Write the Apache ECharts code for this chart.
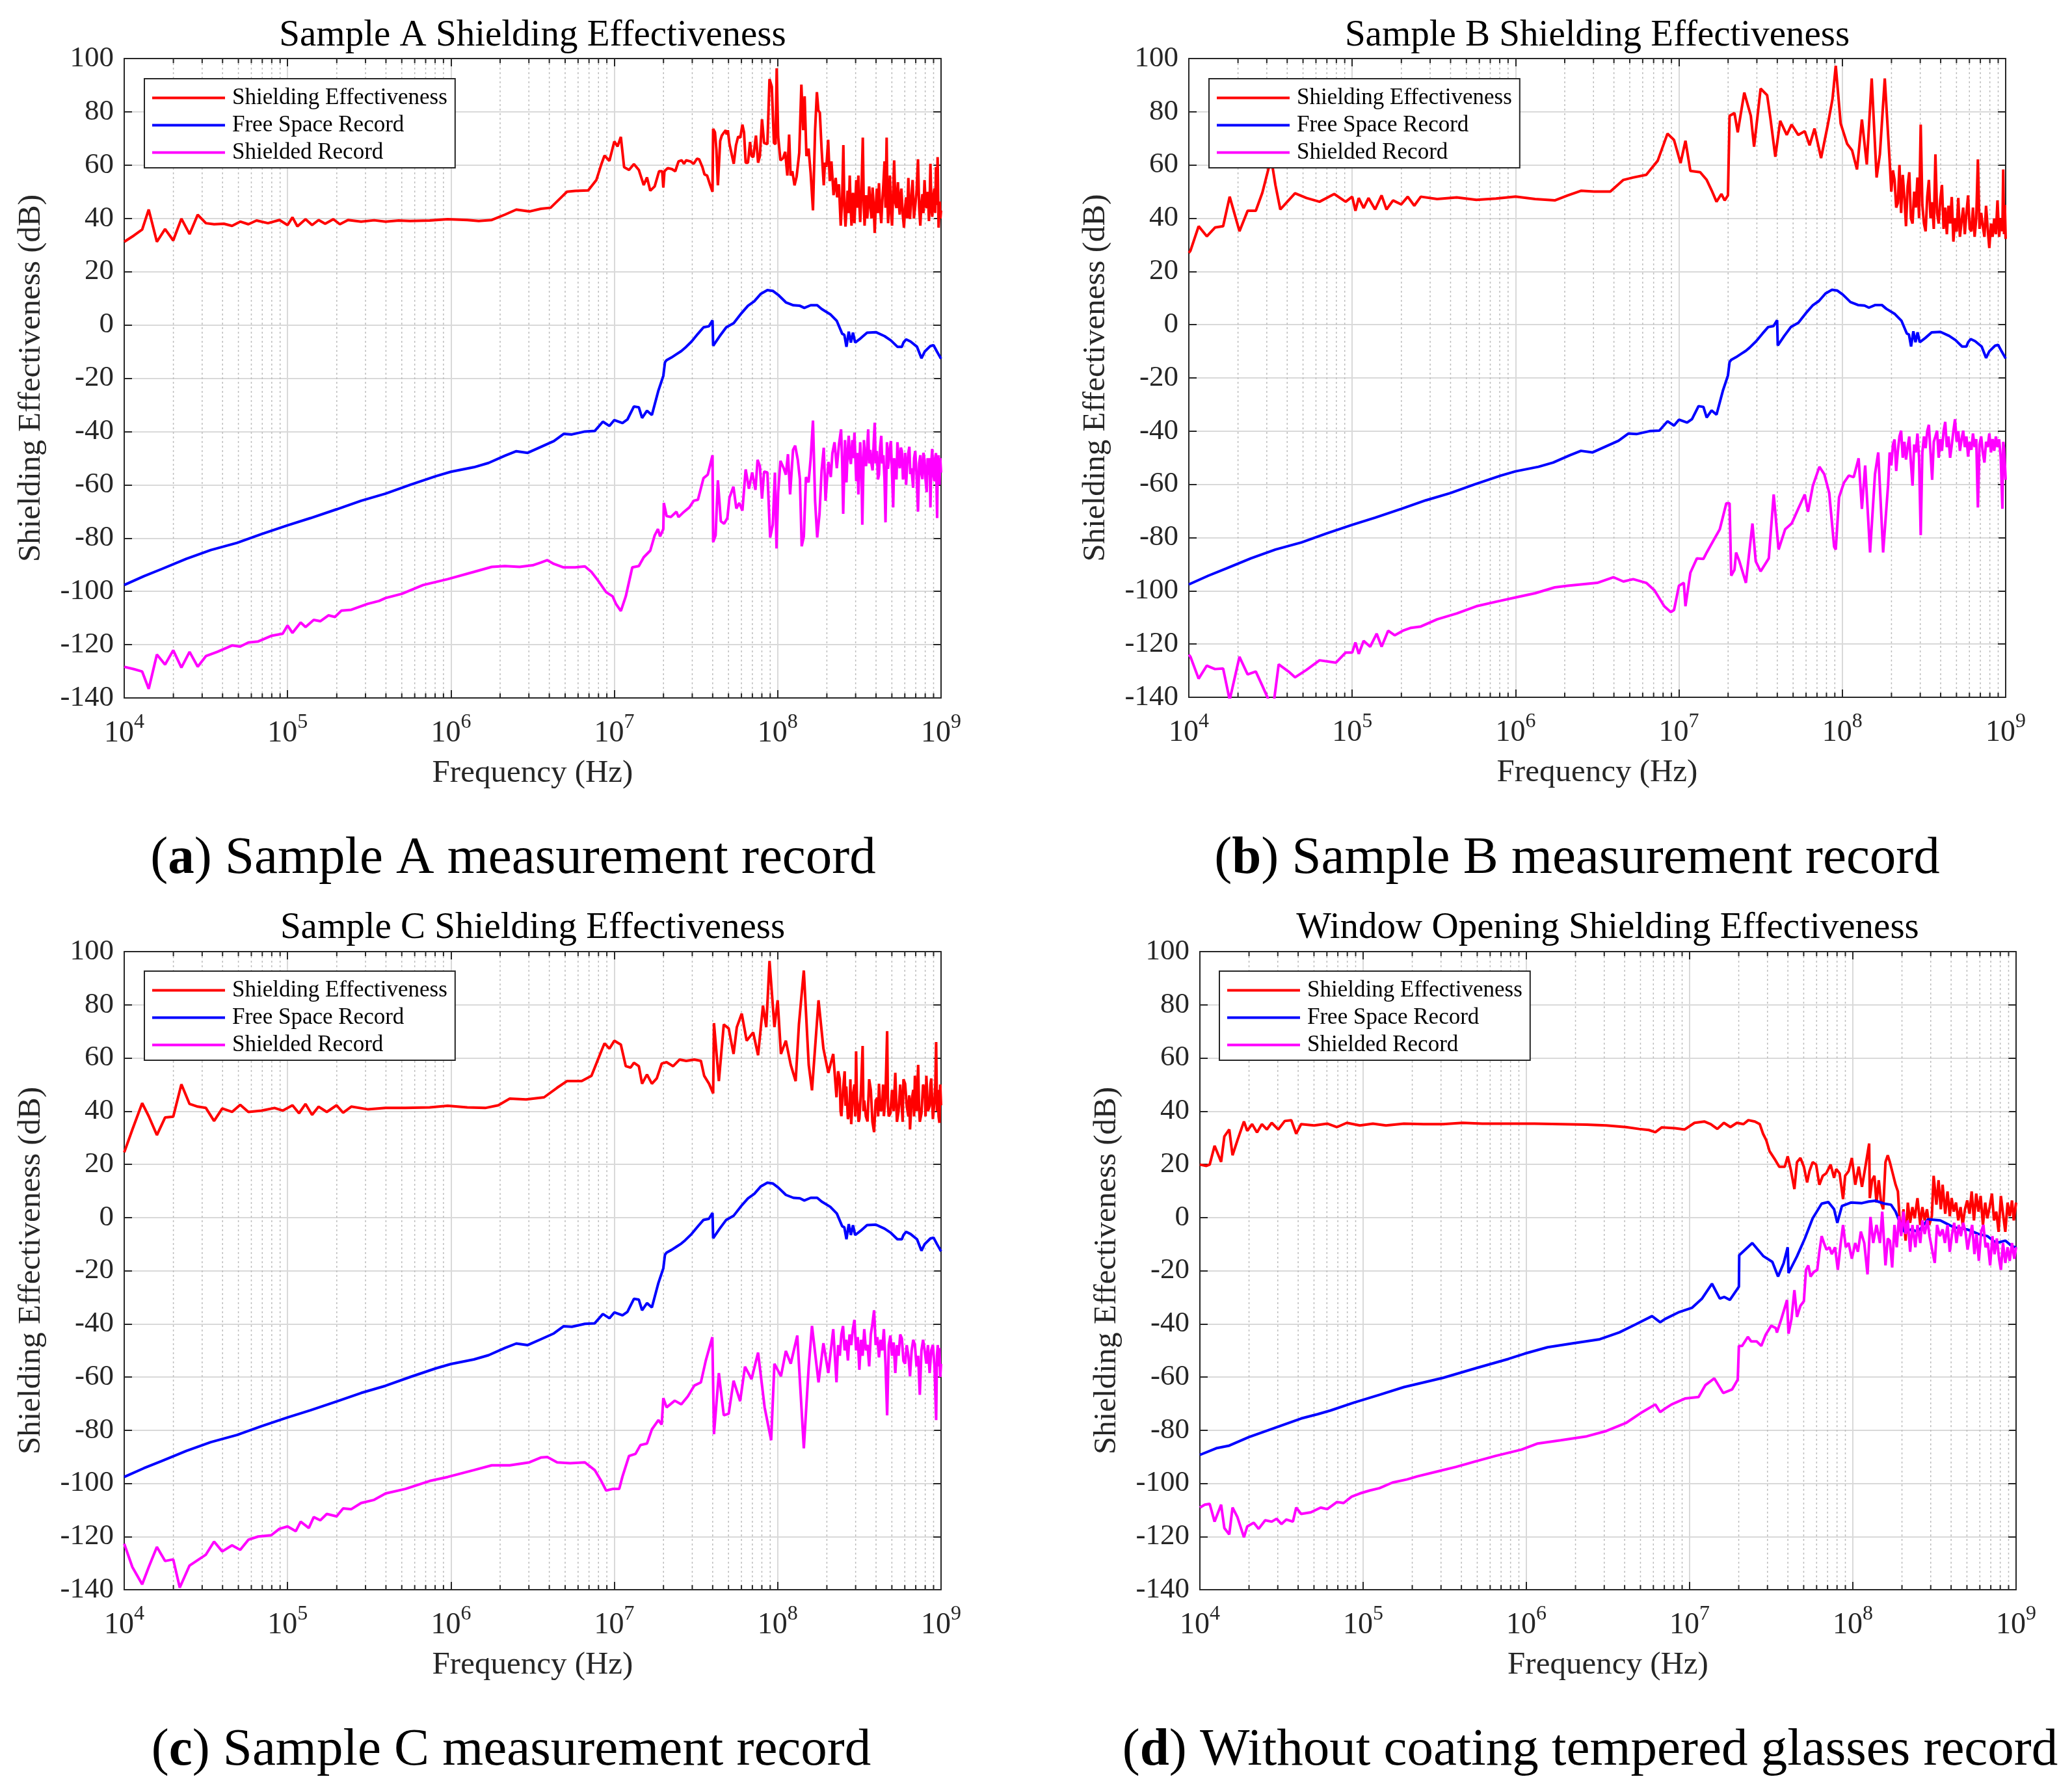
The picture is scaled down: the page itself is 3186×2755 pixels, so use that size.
<!DOCTYPE html>
<html>
<head>
<meta charset="utf-8">
<title>Shielding Effectiveness records</title>
<script src="https://cdn.jsdelivr.net/npm/echarts@6/dist/echarts.min.js"></script>
<style>
  html, body { margin: 0; padding: 0; background: #fff; }
  #chart { width: 3186px; height: 2755px; }
</style>
</head>
<body>
<div id="chart"></div>
<script>
// every point is [log10(frequency / Hz), level in dB]

// free space record, the same sweep in samples A, B and C
const freeSpaceABC = [[4.00,-97.6],[4.12,-94.3],[4.23,-91.6],[4.38,-87.8],[4.53,-84.5],[4.69,-81.8],[4.84,-78.5],[5.00,-75.2],[5.14,-72.5],[5.30,-69.2],[5.45,-66.0],[5.60,-63.3],[5.75,-60.0],[5.91,-56.7],[6.00,-55.1],[6.14,-53.4],[6.23,-51.8],[6.33,-49.1],[6.40,-47.4],[6.47,-48.0],[6.55,-45.8],[6.63,-43.6],[6.69,-40.9],[6.74,-41.1],[6.82,-40.0],[6.88,-39.8],[6.93,-36.3],[6.97,-37.9],[7.00,-35.7],[7.05,-36.8],[7.08,-35.5],[7.12,-30.6],[7.15,-30.9],[7.17,-34.9],[7.20,-32.2],[7.23,-33.8],[7.27,-24.6],[7.30,-19.1],[7.31,-14.0],[7.32,-13.2],[7.35,-12.2],[7.38,-11.0],[7.41,-9.8],[7.433,-8.6],[7.473,-6.2],[7.512,-3.3],[7.546,-0.9],[7.579,-0.5],[7.601,1.7],[7.605,-7.8],[7.645,-4.2],[7.685,-0.9],[7.731,0.7],[7.778,4.4],[7.818,7.2],[7.857,8.9],[7.897,11.7],[7.937,13.1],[7.970,12.8],[8.003,11.3],[8.050,8.5],[8.096,7.4],[8.136,7.2],[8.163,6.4],[8.202,7.4],[8.242,7.4],[8.269,6.0],[8.322,4.0],[8.362,1.5],[8.395,-3.3],[8.408,-3.7],[8.421,-8.2],[8.435,-2.5],[8.448,-6.6],[8.461,-2.9],[8.474,-6.6],[8.508,-5.0],[8.547,-2.9],[8.601,-2.7],[8.654,-4.2],[8.693,-5.8],[8.733,-8.2],[8.760,-8.2],[8.770,-6.6],[8.786,-5.4],[8.813,-6.2],[8.853,-8.2],[8.880,-12.5],[8.900,-10.0],[8.935,-7.9],[8.954,-7.6],[8.975,-10.0],[9.0,-12.7]];

const sampleA_SE = [[4.00,31.2],[4.06,33.6],[4.11,35.8],[4.15,43.3],[4.20,31.2],[4.25,36.0],[4.30,31.7],[4.35,39.9],[4.40,34.1],[4.45,41.4],[4.50,38.2],[4.55,37.8],[4.61,38.0],[4.66,37.2],[4.71,38.8],[4.76,37.8],[4.81,39.2],[4.88,38.2],[4.95,39.4],[5.00,37.5],[5.03,40.4],[5.06,37.0],[5.11,39.7],[5.15,37.5],[5.19,39.4],[5.23,38.0],[5.28,39.7],[5.32,37.8],[5.37,39.4],[5.45,38.8],[5.53,39.3],[5.60,38.8],[5.68,39.2],[5.75,39.0],[5.87,39.2],[5.98,39.7],[6.10,39.4],[6.17,39.0],[6.25,39.4],[6.33,41.4],[6.40,43.3],[6.48,42.6],[6.55,43.6],[6.61,44.0],[6.67,47.6],[6.71,50.0],[6.76,50.3],[6.84,50.5],[6.89,54.4],[6.92,60.2],[6.94,63.6],[6.97,61.6],[7.00,68.9],[7.02,67.0],[7.04,70.6],[7.06,59.2],[7.09,58.2],[7.12,60.4],[7.15,58.2],[7.18,52.5],[7.20,55.4],[7.22,50.4],[7.247,52.0],[7.274,57.7],[7.293,57.7],[7.30,51.6],[7.307,57.7],[7.327,58.9],[7.353,58.5],[7.373,57.7],[7.393,61.4],[7.413,61.8],[7.426,60.5],[7.44,61.8],[7.466,61.4],[7.486,60.5],[7.506,62.4],[7.519,62.2],[7.539,59.3],[7.552,56.5],[7.568,56.1],[7.585,52.8],[7.601,50.0],[7.605,73.6],[7.616,72.3],[7.625,65.8],[7.634,52.4],[7.648,69.1],[7.658,71.1],[7.672,72.3],[7.682,73.1],[7.688,71.5],[7.695,73.1],[7.705,67.9],[7.731,60.5],[7.745,67.5],[7.758,70.7],[7.771,70.3],[7.784,75.2],[7.794,72.3],[7.804,60.9],[7.818,60.9],[7.831,68.7],[7.840,63.4],[7.851,63.0],[7.867,71.1],[7.880,60.9],[7.891,63.4],[7.904,77.2],[7.911,77.6],[7.917,68.3],[7.937,67.9],[7.950,92.3],[7.964,89.4],[7.977,68.3],[7.987,67.9],[7.994,96.3],[8.003,70.7],[8.017,61.8],[8.033,62.6],[8.046,65.0],[8.059,56.1],[8.070,71.5],[8.079,56.1],[8.090,57.7],[8.103,52.4],[8.116,55.7],[8.132,64.6],[8.145,90.2],[8.156,73.1],[8.165,85.8],[8.176,63.4],[8.189,66.2],[8.202,56.9],[8.216,43.0],[8.229,73.1],[8.240,87.4],[8.249,80.5],[8.258,79.7],[8.269,65.8],[8.282,52.4],[8.289,60.9],[8.298,59.3],[8.309,69.5],[8.319,54.0],[8.329,61.4],[8.342,48.7],[8.355,55.2],[8.364,47.9],[8.375,52.8],[8.386,37.3],[8.395,48.0],[8.402,67.5],[8.408,45.0],[8.415,36.9],[8.422,44.0],[8.428,50.4],[8.435,42.0],[8.441,56.1],[8.447,44.0],[8.452,37.3],[8.457,46.0],[8.461,49.6],[8.466,42.0],[8.470,38.2],[8.476,47.0],[8.481,54.4],[8.488,44.0],[8.494,56.1],[8.500,45.0],[8.505,38.6],[8.513,50.0],[8.521,70.3],[8.527,45.0],[8.532,37.3],[8.537,44.0],[8.541,48.7],[8.548,40.0],[8.554,44.7],[8.560,52.0],[8.567,45.5],[8.574,40.0],[8.581,51.6],[8.588,44.0],[8.594,34.5],[8.600,44.0],[8.607,51.2],[8.613,42.0],[8.620,53.2],[8.627,44.0],[8.634,38.2],[8.640,46.0],[8.647,52.8],[8.654,61.4],[8.660,44.0],[8.667,70.3],[8.672,46.0],[8.676,38.2],[8.682,48.0],[8.687,56.1],[8.694,42.0],[8.700,37.3],[8.706,48.0],[8.713,61.8],[8.720,46.0],[8.727,43.9],[8.732,50.0],[8.736,53.6],[8.742,45.0],[8.747,41.4],[8.752,48.0],[8.757,51.2],[8.765,42.0],[8.773,36.5],[8.780,44.0],[8.786,47.9],[8.793,40.0],[8.800,55.2],[8.805,44.0],[8.810,39.8],[8.818,48.0],[8.826,54.4],[8.834,40.0],[8.842,44.7],[8.850,50.0],[8.859,62.2],[8.866,44.0],[8.873,37.3],[8.880,46.0],[8.886,49.1],[8.892,42.0],[8.899,54.4],[8.906,45.0],[8.912,43.9],[8.919,50.0],[8.926,39.0],[8.930,46.0],[8.935,60.5],[8.941,44.0],[8.946,40.6],[8.952,48.0],[8.959,51.2],[8.964,42.0],[8.969,59.3],[8.974,45.0],[8.979,63.0],[8.985,36.5],[8.992,46.3],[8.996,40.0],[9.0,43.0]];

const sampleA_shielded = [[4.00,-128.3],[4.06,-129.2],[4.11,-130.1],[4.15,-136.6],[4.20,-123.7],[4.25,-127.5],[4.30,-122.1],[4.35,-128.6],[4.40,-122.7],[4.45,-128.3],[4.50,-124.3],[4.57,-122.7],[4.66,-120.3],[4.71,-120.7],[4.76,-119.2],[4.82,-118.8],[4.90,-116.7],[4.97,-115.9],[5.00,-112.8],[5.03,-115.6],[5.08,-111.7],[5.11,-113.4],[5.16,-110.7],[5.20,-111.2],[5.25,-109.0],[5.29,-109.6],[5.33,-107.2],[5.39,-106.9],[5.49,-104.7],[5.56,-103.6],[5.60,-102.5],[5.70,-100.9],[5.83,-97.6],[5.98,-95.4],[6.14,-92.7],[6.25,-90.8],[6.33,-90.5],[6.42,-90.8],[6.50,-90.2],[6.55,-89.2],[6.59,-88.3],[6.63,-89.7],[6.69,-91.0],[6.76,-91.0],[6.82,-90.6],[6.86,-92.7],[6.90,-95.9],[6.95,-100.3],[6.99,-101.9],[7.01,-104.7],[7.04,-107.4],[7.07,-101.9],[7.11,-91.0],[7.15,-90.5],[7.18,-87.2],[7.22,-84.7],[7.247,-79.0],[7.267,-76.6],[7.28,-79.4],[7.30,-76.6],[7.303,-66.8],[7.32,-71.7],[7.346,-72.1],[7.38,-70.1],[7.393,-72.1],[7.42,-70.5],[7.459,-68.5],[7.486,-66.0],[7.512,-65.6],[7.546,-57.5],[7.572,-56.2],[7.601,-48.9],[7.605,-81.5],[7.62,-79.0],[7.634,-58.3],[7.652,-73.7],[7.672,-74.6],[7.692,-72.5],[7.705,-64.8],[7.729,-60.7],[7.747,-68.9],[7.765,-66.8],[7.784,-69.7],[7.804,-54.2],[7.824,-61.5],[7.844,-55.4],[7.864,-61.9],[7.877,-50.6],[7.891,-53.0],[7.904,-65.2],[7.917,-55.0],[7.937,-55.4],[7.954,-79.8],[7.97,-75.0],[7.983,-55.4],[7.993,-83.9],[8.003,-62.8],[8.017,-51.0],[8.037,-53.8],[8.05,-56.2],[8.063,-48.5],[8.076,-63.6],[8.094,-46.9],[8.107,-45.3],[8.123,-50.6],[8.136,-57.9],[8.147,-83.1],[8.16,-79.4],[8.173,-57.1],[8.189,-59.1],[8.202,-50.1],[8.216,-35.9],[8.229,-66.0],[8.242,-79.8],[8.256,-70.9],[8.269,-54.6],[8.282,-46.1],[8.293,-66.0],[8.302,-57.9],[8.311,-51.4],[8.325,-57.1],[8.335,-48.1],[8.348,-44.0],[8.362,-53.8],[8.375,-44.9],[8.388,-39.2],[8.395,-52.0],[8.401,-70.9],[8.412,-43.2],[8.421,-59.1],[8.428,-48.0],[8.435,-41.6],[8.442,-50.0],[8.448,-52.2],[8.457,-43.2],[8.463,-50.0],[8.47,-40.4],[8.481,-58.7],[8.488,-48.0],[8.494,-63.6],[8.505,-44.0],[8.512,-52.0],[8.518,-75.0],[8.528,-43.2],[8.535,-50.0],[8.541,-53.0],[8.548,-46.0],[8.554,-39.2],[8.560,-52.0],[8.567,-46.9],[8.574,-52.0],[8.581,-54.6],[8.588,-44.0],[8.594,-36.7],[8.600,-52.0],[8.607,-47.3],[8.614,-58.0],[8.62,-56.2],[8.627,-46.0],[8.634,-41.6],[8.640,-52.0],[8.647,-48.9],[8.654,-58.0],[8.66,-74.1],[8.669,-44.0],[8.675,-54.0],[8.68,-51.4],[8.687,-46.0],[8.693,-43.6],[8.700,-56.0],[8.707,-68.5],[8.713,-50.0],[8.72,-49.7],[8.727,-58.0],[8.733,-44.0],[8.740,-50.0],[8.747,-53.8],[8.754,-46.0],[8.76,-47.3],[8.767,-58.0],[8.773,-56.2],[8.780,-48.0],[8.786,-60.0],[8.793,-52.2],[8.800,-48.0],[8.806,-45.7],[8.812,-56.0],[8.819,-53.8],[8.829,-61.1],[8.835,-50.0],[8.842,-47.3],[8.850,-56.0],[8.859,-70.1],[8.866,-52.0],[8.873,-48.9],[8.880,-56.0],[8.886,-57.9],[8.892,-48.0],[8.899,-50.6],[8.905,-58.0],[8.912,-62.8],[8.918,-50.0],[8.923,-56.2],[8.930,-50.0],[8.935,-68.5],[8.940,-52.0],[8.946,-46.5],[8.952,-56.0],[8.959,-58.7],[8.964,-50.0],[8.969,-48.1],[8.976,-72.5],[8.980,-52.0],[8.985,-48.9],[8.990,-60.0],[8.995,-50.0],[9.0,-55.4]];

const sampleB_SE = [[4.00,27.0],[4.01,27.8],[4.06,37.0],[4.11,33.2],[4.16,36.5],[4.21,37.0],[4.25,48.1],[4.31,35.1],[4.36,42.8],[4.41,42.8],[4.45,49.6],[4.49,59.2],[4.51,60.2],[4.53,52.5],[4.56,43.3],[4.61,46.7],[4.65,49.4],[4.72,47.6],[4.80,46.2],[4.89,49.1],[4.96,46.2],[5.00,48.1],[5.02,42.8],[5.04,47.6],[5.07,43.8],[5.10,47.6],[5.14,43.3],[5.18,48.6],[5.21,43.3],[5.25,46.7],[5.30,45.2],[5.34,48.1],[5.38,44.7],[5.42,48.1],[5.52,47.2],[5.64,47.8],[5.76,46.9],[5.88,47.4],[6.00,48.1],[6.12,47.2],[6.24,46.7],[6.32,48.6],[6.40,50.3],[6.48,50.0],[6.58,50.0],[6.66,54.4],[6.72,55.3],[6.80,56.3],[6.87,61.6],[6.93,71.8],[6.97,69.4],[7.01,60.7],[7.04,69.1],[7.07,57.8],[7.13,57.3],[7.17,54.4],[7.20,50.5],[7.23,46.2],[7.26,49.1],[7.28,46.7],[7.30,48.6],[7.31,78.5],[7.34,79.5],[7.36,72.3],[7.40,87.2],[7.44,78.5],[7.46,66.9],[7.50,88.7],[7.54,86.2],[7.56,77.6],[7.59,63.1],[7.62,76.6],[7.66,71.3],[7.69,75.2],[7.73,71.3],[7.77,72.7],[7.80,67.4],[7.83,73.7],[7.87,62.6],[7.91,74.7],[7.94,84.8],[7.96,97.3],[7.99,75.6],[8.03,67.9],[8.06,65.5],[8.09,58.3],[8.12,77.1],[8.15,60.2],[8.18,92.5],[8.21,55.3],[8.23,64.0],[8.26,92.5],[8.29,61.2],[8.30,50.0],[8.31,58.0],[8.32,54.4],[8.33,44.0],[8.34,45.7],[8.35,60.0],[8.36,42.0],[8.37,56.3],[8.38,48.0],[8.39,37.0],[8.40,52.0],[8.41,57.3],[8.42,40.0],[8.43,38.0],[8.44,50.0],[8.45,44.0],[8.46,55.3],[8.47,40.0],[8.48,75.2],[8.49,45.0],[8.50,38.0],[8.51,35.1],[8.52,48.0],[8.53,54.4],[8.54,40.0],[8.55,46.0],[8.56,36.0],[8.57,64.0],[8.58,42.0],[8.59,38.0],[8.60,47.0],[8.61,52.5],[8.62,36.0],[8.63,44.0],[8.64,34.0],[8.65,44.7],[8.66,38.0],[8.67,48.0],[8.68,31.2],[8.69,40.0],[8.70,35.0],[8.71,47.6],[8.72,33.0],[8.73,38.9],[8.74,44.0],[8.75,34.0],[8.76,42.0],[8.77,48.6],[8.78,36.0],[8.79,35.1],[8.80,44.0],[8.81,33.0],[8.82,40.0],[8.83,62.1],[8.84,36.0],[8.85,42.0],[8.86,37.0],[8.87,33.0],[8.88,44.7],[8.89,36.0],[8.90,28.8],[8.91,38.0],[8.92,33.0],[8.93,39.9],[8.94,34.0],[8.95,46.7],[8.96,33.0],[8.97,40.0],[8.98,35.1],[8.985,58.3],[8.99,34.0],[8.995,45.0],[9.0,32.2]];

const sampleB_shielded = [[4.00,-124.0],[4.01,-124.8],[4.06,-133.0],[4.11,-128.1],[4.16,-129.4],[4.21,-129.2],[4.25,-141.0],[4.31,-124.8],[4.36,-131.4],[4.41,-130.3],[4.45,-135.7],[4.49,-141.2],[4.52,-142.0],[4.55,-127.6],[4.61,-130.3],[4.65,-132.5],[4.72,-129.7],[4.80,-126.1],[4.90,-127.0],[4.96,-123.2],[5.00,-123.2],[5.02,-119.4],[5.04,-123.7],[5.07,-118.8],[5.11,-121.0],[5.15,-116.1],[5.18,-121.0],[5.22,-115.0],[5.26,-116.7],[5.31,-115.0],[5.36,-113.9],[5.42,-113.4],[5.52,-110.7],[5.64,-108.5],[5.76,-105.8],[5.88,-104.1],[6.00,-102.5],[6.12,-100.9],[6.24,-98.7],[6.32,-98.1],[6.40,-97.6],[6.50,-97.0],[6.60,-94.9],[6.66,-96.5],[6.72,-95.6],[6.80,-97.0],[6.85,-99.8],[6.91,-105.8],[6.95,-108.0],[6.97,-107.2],[7.00,-98.1],[7.03,-97.0],[7.04,-105.8],[7.07,-93.2],[7.11,-87.8],[7.15,-88.0],[7.17,-85.6],[7.21,-81.2],[7.25,-76.9],[7.29,-67.1],[7.31,-67.1],[7.32,-94.3],[7.34,-92.1],[7.35,-85.6],[7.37,-88.9],[7.41,-97.0],[7.45,-74.7],[7.47,-88.9],[7.50,-92.7],[7.55,-87.8],[7.58,-63.8],[7.61,-84.5],[7.65,-76.9],[7.69,-74.7],[7.73,-69.2],[7.77,-63.8],[7.79,-70.3],[7.82,-60.5],[7.86,-53.4],[7.89,-56.2],[7.92,-63.2],[7.95,-83.4],[7.96,-84.5],[7.98,-64.9],[8.01,-59.4],[8.04,-56.7],[8.07,-57.3],[8.10,-50.2],[8.12,-69.2],[8.14,-52.9],[8.17,-85.6],[8.20,-56.2],[8.22,-48.0],[8.25,-85.6],[8.28,-60.5],[8.29,-48.0],[8.30,-52.9],[8.31,-45.0],[8.32,-43.1],[8.33,-55.0],[8.34,-47.4],[8.35,-42.0],[8.36,-39.8],[8.37,-50.0],[8.38,-44.0],[8.39,-50.7],[8.40,-46.0],[8.41,-42.0],[8.42,-52.0],[8.43,-60.5],[8.44,-45.0],[8.45,-48.0],[8.46,-40.9],[8.47,-50.0],[8.48,-79.1],[8.49,-48.0],[8.50,-42.0],[8.51,-46.4],[8.52,-40.0],[8.53,-37.6],[8.54,-48.0],[8.55,-58.3],[8.56,-44.0],[8.57,-42.0],[8.58,-39.8],[8.59,-50.0],[8.60,-43.0],[8.61,-47.4],[8.62,-40.0],[8.63,-36.5],[8.64,-46.0],[8.65,-42.0],[8.66,-50.0],[8.67,-45.3],[8.68,-40.0],[8.69,-35.5],[8.70,-44.0],[8.71,-40.0],[8.72,-47.4],[8.73,-43.0],[8.74,-39.8],[8.75,-46.0],[8.76,-42.0],[8.77,-49.6],[8.78,-44.0],[8.79,-47.0],[8.80,-40.9],[8.81,-46.0],[8.82,-43.0],[8.83,-68.7],[8.84,-45.0],[8.85,-42.0],[8.86,-48.0],[8.87,-51.8],[8.88,-44.0],[8.89,-46.0],[8.90,-40.9],[8.91,-48.0],[8.92,-43.0],[8.93,-47.4],[8.94,-42.0],[8.95,-46.0],[8.96,-43.1],[8.97,-50.0],[8.98,-69.2],[8.985,-44.0],[8.99,-46.4],[8.995,-52.0],[9.0,-58.3]];

const sampleC_SE = [[4.00,24.5],[4.05,33.1],[4.11,43.0],[4.15,38.1],[4.20,31.0],[4.25,37.6],[4.30,37.9],[4.35,50.1],[4.40,42.7],[4.45,41.7],[4.50,41.2],[4.55,36.3],[4.60,41.0],[4.66,39.7],[4.71,42.4],[4.76,39.7],[4.84,40.2],[4.92,41.2],[4.97,40.2],[5.03,42.2],[5.07,39.2],[5.11,42.7],[5.15,38.6],[5.19,41.7],[5.24,39.7],[5.30,42.2],[5.34,39.4],[5.39,41.7],[5.49,40.7],[5.60,41.2],[5.72,41.2],[5.87,41.4],[5.98,42.0],[6.10,41.4],[6.21,41.2],[6.29,42.2],[6.36,44.7],[6.46,44.4],[6.57,45.2],[6.65,48.8],[6.71,51.3],[6.80,51.3],[6.86,53.3],[6.92,62.5],[6.94,65.5],[6.97,63.5],[7.00,66.5],[7.04,65.0],[7.07,56.9],[7.10,56.4],[7.12,58.2],[7.15,56.9],[7.17,50.3],[7.20,53.8],[7.23,50.3],[7.26,52.3],[7.29,57.9],[7.32,58.4],[7.36,56.9],[7.40,59.4],[7.44,58.9],[7.49,59.4],[7.53,58.9],[7.55,53.3],[7.58,50.3],[7.605,46.7],[7.61,73.1],[7.64,51.3],[7.67,72.6],[7.70,71.1],[7.73,61.5],[7.75,71.6],[7.78,76.7],[7.81,66.5],[7.85,69.6],[7.88,61.0],[7.91,79.7],[7.93,71.6],[7.95,96.5],[7.98,71.6],[8.00,81.7],[8.02,61.5],[8.05,66.5],[8.08,57.4],[8.11,51.3],[8.13,72.6],[8.16,92.9],[8.19,57.4],[8.21,47.8],[8.25,81.7],[8.28,63.5],[8.31,54.4],[8.34,61.5],[8.36,45.2],[8.37,55.0],[8.38,52.0],[8.385,40.0],[8.39,38.1],[8.40,48.0],[8.41,55.0],[8.415,42.0],[8.42,49.3],[8.43,37.0],[8.44,40.0],[8.445,52.0],[8.45,35.1],[8.46,46.0],[8.47,50.0],[8.475,38.0],[8.48,62.5],[8.485,45.0],[8.49,42.0],[8.495,36.0],[8.50,37.1],[8.51,48.0],[8.52,64.5],[8.525,40.0],[8.53,44.0],[8.54,38.0],[8.55,36.1],[8.56,52.0],[8.57,48.0],[8.58,36.0],[8.59,32.1],[8.60,44.0],[8.61,45.0],[8.615,38.0],[8.62,50.3],[8.63,40.0],[8.64,41.0],[8.645,50.0],[8.65,38.1],[8.66,46.0],[8.67,70.1],[8.675,42.0],[8.68,38.0],[8.69,39.2],[8.70,48.0],[8.71,40.0],[8.72,54.4],[8.73,36.0],[8.74,40.0],[8.75,50.0],[8.76,41.2],[8.765,36.0],[8.77,52.0],[8.78,50.3],[8.79,42.0],[8.80,38.0],[8.805,46.0],[8.81,33.1],[8.82,44.0],[8.83,48.0],[8.835,38.0],[8.84,53.3],[8.85,40.0],[8.86,57.4],[8.865,42.0],[8.87,36.0],[8.88,39.2],[8.89,50.0],[8.90,48.0],[8.905,38.0],[8.91,53.3],[8.92,40.0],[8.93,42.0],[8.935,50.0],[8.94,52.3],[8.95,37.0],[8.96,44.0],[8.965,50.0],[8.97,66.0],[8.975,40.0],[8.98,48.0],[8.985,38.0],[8.99,35.6],[8.995,50.0],[9.0,42.2]];

const sampleC_shielded = [[4.00,-122.7],[4.05,-131.5],[4.11,-138.0],[4.15,-131.5],[4.20,-123.9],[4.25,-129.2],[4.30,-128.6],[4.34,-139.2],[4.40,-130.9],[4.50,-126.8],[4.55,-121.9],[4.60,-125.6],[4.66,-123.3],[4.71,-125.0],[4.76,-121.2],[4.82,-120.0],[4.90,-119.5],[4.95,-117.1],[5.00,-116.2],[5.05,-118.0],[5.08,-114.4],[5.13,-116.8],[5.16,-112.7],[5.20,-113.9],[5.24,-111.5],[5.30,-112.4],[5.34,-109.4],[5.39,-109.7],[5.45,-107.4],[5.53,-106.2],[5.60,-103.8],[5.72,-102.1],[5.87,-99.1],[5.98,-97.6],[6.14,-95.0],[6.25,-93.2],[6.36,-93.2],[6.48,-92.1],[6.55,-90.3],[6.59,-90.1],[6.65,-92.1],[6.73,-92.4],[6.82,-92.1],[6.88,-95.0],[6.92,-99.1],[6.95,-102.7],[6.99,-102.1],[7.03,-102.1],[7.05,-97.4],[7.09,-89.7],[7.13,-88.9],[7.16,-85.6],[7.20,-85.0],[7.23,-79.7],[7.27,-76.2],[7.29,-77.9],[7.30,-67.9],[7.32,-71.4],[7.37,-68.9],[7.41,-70.3],[7.45,-67.3],[7.49,-63.2],[7.53,-62.0],[7.56,-53.8],[7.60,-45.0],[7.61,-81.5],[7.64,-58.5],[7.67,-74.4],[7.70,-73.8],[7.73,-61.4],[7.77,-69.1],[7.80,-56.1],[7.84,-60.8],[7.88,-50.8],[7.92,-71.4],[7.96,-83.8],[7.98,-55.0],[8.02,-59.7],[8.05,-50.2],[8.08,-55.0],[8.12,-44.4],[8.16,-86.8],[8.19,-56.1],[8.21,-40.8],[8.25,-62.0],[8.28,-47.3],[8.31,-58.5],[8.34,-42.0],[8.36,-62.0],[8.37,-48.0],[8.38,-52.0],[8.39,-44.0],[8.40,-40.8],[8.41,-50.0],[8.42,-46.0],[8.43,-53.8],[8.44,-44.0],[8.45,-48.0],[8.46,-42.0],[8.47,-38.5],[8.48,-50.0],[8.49,-45.0],[8.50,-57.3],[8.51,-46.0],[8.52,-52.0],[8.53,-42.0],[8.54,-50.0],[8.55,-47.9],[8.56,-56.0],[8.57,-44.0],[8.58,-40.0],[8.59,-34.9],[8.60,-48.0],[8.61,-45.0],[8.62,-52.6],[8.63,-46.0],[8.64,-50.0],[8.65,-42.0],[8.66,-55.0],[8.67,-74.4],[8.68,-48.0],[8.69,-44.4],[8.70,-52.0],[8.71,-47.0],[8.72,-58.5],[8.73,-48.0],[8.74,-52.0],[8.75,-44.0],[8.76,-45.5],[8.77,-54.0],[8.78,-55.0],[8.79,-48.0],[8.80,-52.0],[8.81,-59.7],[8.82,-50.0],[8.83,-46.0],[8.84,-47.9],[8.85,-56.0],[8.86,-52.0],[8.87,-66.7],[8.88,-50.0],[8.89,-46.0],[8.90,-50.2],[8.91,-55.0],[8.92,-48.0],[8.93,-58.5],[8.94,-50.0],[8.95,-47.9],[8.96,-56.0],[8.97,-76.2],[8.975,-52.0],[8.98,-48.0],[8.985,-56.0],[8.99,-49.1],[8.995,-60.0],[9.0,-55.0]];

const sampleD_SE = [[4.00,19.9],[4.04,19.4],[4.06,19.9],[4.09,27.0],[4.13,20.9],[4.15,30.5],[4.18,33.1],[4.20,23.4],[4.23,29.0],[4.27,36.1],[4.29,32.6],[4.32,35.1],[4.35,32.0],[4.38,35.1],[4.41,33.1],[4.44,35.6],[4.48,33.1],[4.52,36.3],[4.56,36.6],[4.59,31.5],[4.62,35.1],[4.70,34.6],[4.78,35.3],[4.84,34.0],[4.90,35.6],[4.98,34.6],[5.06,35.3],[5.14,34.6],[5.25,35.3],[5.37,35.1],[5.49,35.1],[5.61,35.6],[5.73,35.3],[5.89,35.3],[6.05,35.3],[6.21,35.1],[6.37,34.9],[6.49,34.6],[6.61,34.0],[6.69,33.3],[6.75,32.9],[6.79,32.1],[6.83,33.9],[6.91,33.6],[6.97,33.1],[7.03,35.6],[7.09,36.1],[7.13,35.1],[7.17,33.3],[7.21,35.6],[7.25,34.0],[7.29,35.6],[7.33,35.1],[7.36,36.6],[7.40,36.1],[7.43,35.1],[7.45,31.5],[7.47,29.0],[7.49,24.9],[7.521,22.0],[7.549,19.1],[7.583,19.1],[7.601,23.0],[7.62,18.0],[7.642,10.7],[7.658,20.8],[7.679,22.4],[7.70,19.1],[7.72,13.2],[7.734,17.4],[7.754,20.8],[7.775,19.9],[7.795,12.3],[7.816,15.7],[7.837,16.6],[7.864,19.9],[7.885,14.9],[7.898,18.2],[7.919,16.6],[7.94,6.9],[7.953,15.7],[7.974,17.4],[7.994,22.4],[8.015,12.3],[8.036,19.1],[8.056,11.5],[8.077,19.1],[8.10,27.8],[8.104,7.3],[8.118,14.0],[8.132,15.7],[8.145,5.6],[8.159,14.0],[8.173,5.6],[8.186,3.1],[8.20,20.8],[8.214,23.4],[8.227,20.8],[8.241,17.4],[8.262,12.3],[8.276,9.8],[8.287,-1.1],[8.296,-6.2],[8.31,3.1],[8.323,-8.7],[8.337,5.6],[8.351,-2.0],[8.365,3.9],[8.379,-0.3],[8.396,7.3],[8.413,-2.8],[8.426,3.9],[8.44,-1.1],[8.454,3.1],[8.468,-2.8],[8.484,0.5],[8.495,15.7],[8.512,4.8],[8.525,14.0],[8.539,3.1],[8.55,12.3],[8.566,1.4],[8.58,9.8],[8.594,0.5],[8.605,7.3],[8.618,2.2],[8.632,5.6],[8.646,-1.1],[8.66,3.9],[8.673,-2.8],[8.687,3.1],[8.701,6.4],[8.715,1.4],[8.728,9.8],[8.742,-1.1],[8.756,9.0],[8.77,2.2],[8.783,8.1],[8.797,-2.8],[8.811,5.6],[8.824,-0.3],[8.838,3.9],[8.852,9.0],[8.865,-1.1],[8.879,2.2],[8.893,-5.4],[8.907,8.1],[8.92,1.4],[8.934,-5.4],[8.948,5.6],[8.961,0.5],[8.975,6.4],[8.986,-1.1],[9.0,5.6]];

const sampleD_free = [[4.00,-89.3],[4.10,-86.8],[4.18,-85.8],[4.30,-82.6],[4.46,-79.1],[4.62,-75.6],[4.72,-74.0],[4.80,-72.6],[4.94,-69.7],[5.10,-66.7],[5.25,-63.8],[5.49,-60.3],[5.69,-56.7],[5.89,-53.2],[5.99,-51.2],[6.13,-48.8],[6.29,-47.3],[6.45,-45.8],[6.57,-43.2],[6.67,-40.2],[6.77,-37.1],[6.82,-39.4],[6.849,-38.2],[6.931,-35.7],[7.014,-34.0],[7.075,-30.6],[7.137,-24.9],[7.185,-30.5],[7.213,-29.9],[7.247,-31.0],[7.302,-26.0],[7.304,-14.2],[7.384,-9.6],[7.453,-14.6],[7.507,-16.7],[7.542,-22.2],[7.576,-17.2],[7.601,-11.2],[7.606,-20.9],[7.658,-14.6],[7.706,-7.9],[7.754,-0.3],[7.809,5.2],[7.85,5.8],[7.885,3.1],[7.905,-2.0],[7.933,4.3],[7.988,5.6],[8.056,5.4],[8.097,6.0],[8.138,6.3],[8.193,5.2],[8.234,4.8],[8.262,2.2],[8.289,-2.0],[8.317,-5.4],[8.358,-4.5],[8.399,-5.4],[8.461,-0.7],[8.536,-1.1],[8.619,-3.7],[8.701,-4.5],[8.77,-6.2],[8.824,-7.0],[8.879,-9.6],[8.934,-8.7],[8.975,-10.8],[9.0,-11.3]];

const sampleD_shielded = [[4.00,-109.1],[4.03,-108.0],[4.06,-107.7],[4.09,-114.4],[4.13,-108.0],[4.15,-116.8],[4.18,-119.2],[4.20,-109.1],[4.23,-112.7],[4.27,-120.3],[4.29,-116.2],[4.33,-114.8],[4.36,-117.1],[4.40,-113.9],[4.44,-114.4],[4.47,-113.3],[4.50,-115.3],[4.53,-113.6],[4.57,-114.4],[4.59,-109.1],[4.62,-111.5],[4.68,-110.9],[4.74,-109.1],[4.78,-109.7],[4.84,-107.0],[4.88,-107.4],[4.93,-105.0],[4.98,-103.8],[5.04,-102.7],[5.10,-101.8],[5.18,-99.7],[5.27,-98.5],[5.33,-97.4],[5.45,-95.6],[5.57,-93.8],[5.69,-91.7],[5.81,-89.7],[5.97,-87.3],[6.07,-85.0],[6.21,-83.8],[6.37,-82.3],[6.49,-80.3],[6.61,-77.3],[6.71,-73.2],[6.79,-70.3],[6.82,-73.2],[6.849,-71.9],[6.89,-70.3],[6.972,-68.1],[7.055,-67.5],[7.096,-63.1],[7.151,-60.5],[7.206,-66.0],[7.26,-64.7],[7.295,-61.0],[7.302,-48.3],[7.322,-48.3],[7.357,-44.9],[7.377,-46.6],[7.411,-46.6],[7.439,-48.3],[7.466,-44.1],[7.50,-40.7],[7.528,-41.6],[7.535,-43.3],[7.562,-38.2],[7.597,-31.0],[7.606,-43.7],[7.624,-38.2],[7.642,-27.3],[7.658,-37.4],[7.679,-33.2],[7.70,-31.5],[7.713,-19.7],[7.727,-18.0],[7.741,-22.2],[7.761,-20.5],[7.782,-19.7],[7.795,-12.9],[7.809,-7.0],[7.823,-9.6],[7.839,-12.1],[7.857,-11.2],[7.871,-13.8],[7.891,-11.2],[7.908,-19.7],[7.926,-9.6],[7.94,-2.8],[7.957,-11.2],[7.974,-9.6],[7.994,-15.5],[8.015,-9.6],[8.031,-12.9],[8.049,-5.3],[8.07,-9.6],[8.09,-21.4],[8.108,0.2],[8.125,-9.6],[8.145,-2.8],[8.166,-9.6],[8.18,2.2],[8.20,-18.0],[8.214,-7.9],[8.227,-8.7],[8.241,-18.8],[8.255,-2.8],[8.269,-11.2],[8.283,0.5],[8.296,-7.0],[8.31,2.2],[8.323,-6.2],[8.337,-1.1],[8.351,-12.9],[8.365,-2.8],[8.383,-11.2],[8.396,-2.8],[8.413,-9.6],[8.426,-1.1],[8.44,-6.2],[8.457,-1.1],[8.47,-7.0],[8.488,-12.9],[8.502,-17.1],[8.516,-2.8],[8.533,-7.0],[8.55,-4.5],[8.564,-9.6],[8.58,-2.8],[8.594,-12.9],[8.608,-6.2],[8.621,-2.0],[8.635,-9.6],[8.649,-2.8],[8.662,-7.0],[8.676,-2.0],[8.69,-5.4],[8.703,-12.1],[8.717,-7.0],[8.731,-2.8],[8.745,-13.8],[8.758,-6.2],[8.772,-16.3],[8.786,-5.4],[8.8,-2.8],[8.813,-11.2],[8.827,-9.6],[8.841,-18.0],[8.855,-7.0],[8.868,-13.8],[8.882,-7.9],[8.896,-15.5],[8.907,-19.7],[8.92,-9.6],[8.934,-17.1],[8.948,-11.2],[8.961,-16.3],[8.975,-9.6],[8.989,-15.5],[9.0,-11.2]];

const seriesNames = ['Shielding Effectiveness', 'Free Space Record', 'Shielded Record'];
const seriesColors = ['#ff0000', '#0000ff', '#ff00ff'];
const decadeExps = [4, 5, 6, 7, 8];
const minorSteps = [2, 3, 4, 5, 6, 7, 8, 9];

const FONT = '"Liberation Serif", "Times New Roman", serif';
const AXIS_COLOR = '#262626';

const panels = [
  { grid: { left: 191, top: 90, width: 1256, height: 983 }, title: 'Sample A Shielding Effectiveness', titlePos: [819, 55],
    letter: 'a', caption: 'Sample A measurement record', capPos: [789, 1321], legendPos: [222, 121],
    lines: [sampleA_SE, freeSpaceABC, sampleA_shielded] },
  { grid: { left: 1828, top: 90, width: 1256, height: 982 }, title: 'Sample B Shielding Effectiveness', titlePos: [2456, 55],
    letter: 'b', caption: 'Sample B measurement record', capPos: [2425, 1321], legendPos: [1859, 121],
    lines: [sampleB_SE, freeSpaceABC, sampleB_shielded] },
  { grid: { left: 191, top: 1463, width: 1256, height: 981 }, title: 'Sample C Shielding Effectiveness', titlePos: [819, 1427],
    letter: 'c', caption: 'Sample C measurement record', capPos: [786, 2692], legendPos: [222, 1493],
    lines: [sampleC_SE, freeSpaceABC, sampleC_shielded] },
  { grid: { left: 1845, top: 1463, width: 1255, height: 981 }, title: 'Window Opening Shielding Effectiveness', titlePos: [2472, 1427],
    letter: 'd', caption: 'Without coating tempered glasses record', capPos: [2445, 2692], legendPos: [1875, 1493],
    lines: [sampleD_SE, sampleD_free, sampleD_shielded] }
];

const toHz = pts => pts.map(p => [Math.pow(10, p[0]), p[1]]);

const minorTicks = [];
decadeExps.forEach(e => minorSteps.forEach(m => minorTicks.push([m * Math.pow(10, e), 0])));

// dotted minor grid line for the log axis, plus short minor ticks at top and bottom
function renderMinor(params, api) {
  const cs = params.coordSys;
  const x = api.coord([api.value(0), 0])[0];
  const top = cs.y, bottom = cs.y + cs.height;
  return {
    type: 'group',
    children: [
      { type: 'line', shape: { x1: x, y1: top, x2: x, y2: bottom }, style: { stroke: '#bdbdbd', lineWidth: 1.5, lineDash: [3, 4] } },
      { type: 'line', shape: { x1: x, y1: bottom, x2: x, y2: bottom - 7 }, style: { stroke: AXIS_COLOR, lineWidth: 2 } },
      { type: 'line', shape: { x1: x, y1: top, x2: x, y2: top + 7 }, style: { stroke: AXIS_COLOR, lineWidth: 2 } }
    ]
  };
}

const grid = [], xAxis = [], yAxis = [], series = [], legend = [], graphic = [];

panels.forEach((p, i) => {
  grid.push(Object.assign({ containLabel: false, outerBoundsMode: 'none' }, p.grid));

  const logAxis = {
    type: 'log', logBase: 10, gridIndex: i, min: 1e4, max: 1e9,
    axisLine: { show: true, onZero: false, lineStyle: { color: AXIS_COLOR, width: 2 } },
    axisTick: { show: true, inside: true, length: 12, lineStyle: { color: AXIS_COLOR, width: 2 } },
    minorTick: { show: false }
  };
  xAxis.push(Object.assign({}, logAxis, {
    position: 'bottom',
    name: 'Frequency (Hz)', nameLocation: 'middle', nameGap: 92,
    nameTextStyle: { fontFamily: FONT, fontSize: 49, color: AXIS_COLOR },
    splitLine: { show: true, lineStyle: { color: '#d9d9d9', width: 2 } },
    axisLabel: {
      show: true, margin: 22, showMinLabel: true, showMaxLabel: true,
      formatter: v => '{b|10}{sup|' + Math.round(Math.log10(v)) + '}',
      rich: {
        b: { fontFamily: FONT, fontSize: 46, color: AXIS_COLOR, lineHeight: 56, verticalAlign: 'bottom' },
        sup: { fontFamily: FONT, fontSize: 32, color: AXIS_COLOR, lineHeight: 32, verticalAlign: 'top' }
      }
    }
  }));
  xAxis.push(Object.assign({}, logAxis, {
    position: 'top', axisLabel: { show: false }, splitLine: { show: false }
  }));

  const dbAxis = {
    type: 'value', gridIndex: i, min: -140, max: 100, interval: 20,
    axisLine: { show: true, onZero: false, lineStyle: { color: AXIS_COLOR, width: 2 } },
    axisTick: { show: true, inside: true, length: 12, lineStyle: { color: AXIS_COLOR, width: 2 } }
  };
  yAxis.push(Object.assign({}, dbAxis, {
    position: 'left',
    name: 'Shielding Effectiveness (dB)', nameLocation: 'middle', nameGap: 118,
    nameTextStyle: { fontFamily: FONT, fontSize: 49, color: AXIS_COLOR },
    splitLine: { show: true, lineStyle: { color: '#d9d9d9', width: 2 } },
    axisLabel: { show: true, margin: 16, fontFamily: FONT, fontSize: 45, color: AXIS_COLOR }
  }));
  yAxis.push(Object.assign({}, dbAxis, {
    position: 'right', axisLabel: { show: false }, splitLine: { show: false }
  }));

  series.push({
    type: 'custom', xAxisIndex: 2 * i, yAxisIndex: 2 * i, data: minorTicks,
    encode: { x: 0, y: 1 }, renderItem: renderMinor, silent: true, z: 1, clip: false
  });

  p.lines.forEach((pts, k) => {
    series.push({
      type: 'line', name: seriesNames[k], xAxisIndex: 2 * i, yAxisIndex: 2 * i,
      data: toHz(pts), showSymbol: false, symbol: 'none', color: seriesColors[k],
      lineStyle: { color: seriesColors[k], width: 4 }, clip: true, z: 3 + k
    });
  });

  legend.push({
    left: p.legendPos[0], top: p.legendPos[1], orient: 'vertical', data: seriesNames,
    icon: 'rect', itemWidth: 112, itemHeight: 4, itemGap: 7, padding: [12, 12, 6, 12],
    borderColor: AXIS_COLOR, borderWidth: 2, backgroundColor: '#fff', selectedMode: false, z: 10,
    textStyle: { fontFamily: FONT, fontSize: 35, color: '#000', lineHeight: 35, padding: [0, 0, 0, 6] }
  });

  graphic.push({
    type: 'text', x: p.titlePos[0], y: p.titlePos[1],
    style: { text: p.title, fontFamily: FONT, fontSize: 57, fill: '#000', align: 'center', verticalAlign: 'middle' }
  });
  graphic.push({
    type: 'text', x: p.capPos[0], y: p.capPos[1],
    style: {
      text: '({b|' + p.letter + '}) ' + p.caption, fontFamily: FONT, fontSize: 81, fill: '#000',
      align: 'center', verticalAlign: 'middle',
      rich: { b: { fontFamily: FONT, fontSize: 81, fontWeight: 'bold', fill: '#000' } }
    }
  });
});

const chart = echarts.init(document.getElementById('chart'), null, { renderer: 'canvas' });
chart.setOption({
  animation: false,
  backgroundColor: '#ffffff',
  grid, xAxis, yAxis, series, legend, graphic
});
</script>
</body>
</html>
